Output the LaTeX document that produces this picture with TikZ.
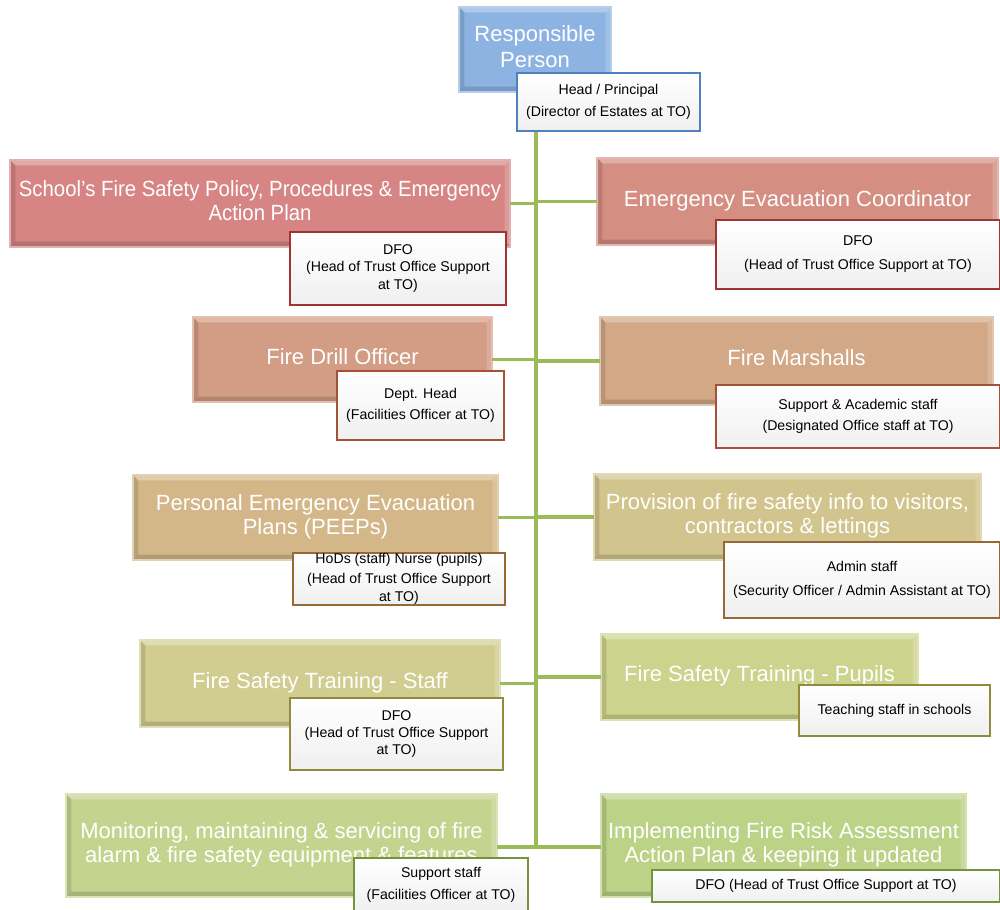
\documentclass[tikz,border=0pt]{standalone}
\usepackage{fontspec}
\setmainfont{Liberation Sans}
\begin{document}
\newcommand{\mainfs}{\fontsize{16.5}{18}\selectfont}
\newcommand{\subfs}{\fontsize{10.6}{13}\selectfont}
\newcommand{\mt}[1]{\raisebox{3pt}{\begin{tabular}{@{}c@{}}#1\end{tabular}}}
\definecolor{rpC}{RGB}{141,179,226}
\definecolor{rpB}{RGB}{79,129,189}
\definecolor{aL}{RGB}{214,132,132}
\definecolor{aR}{RGB}{212,142,130}
\definecolor{bL}{RGB}{211,156,132}
\definecolor{bR}{RGB}{210,168,134}
\definecolor{cL}{RGB}{211,183,136}
\definecolor{cR}{RGB}{209,196,140}
\definecolor{dL}{RGB}{209,205,145}
\definecolor{dR}{RGB}{204,211,141}
\definecolor{eL}{RGB}{196,212,143}
\definecolor{eR}{RGB}{188,210,135}
\definecolor{aB}{RGB}{160,52,52}
\definecolor{bB}{RGB}{165,80,55}
\definecolor{cB}{RGB}{150,105,55}
\definecolor{dB}{RGB}{145,140,60}
\definecolor{eB}{RGB}{118,146,60}
\definecolor{conn}{RGB}{155,187,89}
\newcommand{\bx}[7]{%
 \node[#6, minimum width={(#4-#2)*0.75pt}, minimum height={(#5-#3)*0.75pt}] (#1) at ({(#2+#4)/2},{(#3+#5)/2}) {#7};}
\begin{tikzpicture}[x=0.75pt,y=-0.75pt,
  mainbox/.style={fill=#1, draw=#1!65!white, line width=0.8pt, text=white, font=\mainfs, align=center, inner sep=0pt, outer sep=0pt,
    path picture={
      \fill[white,opacity=0.3] (path picture bounding box.north west) -- (path picture bounding box.north east) -- ([xshift=-4pt,yshift=-4pt]path picture bounding box.north east) -- ([xshift=4pt,yshift=-4pt]path picture bounding box.north west) -- cycle;
      \fill[white,opacity=0.18] (path picture bounding box.north east) -- (path picture bounding box.south east) -- ([xshift=-4pt,yshift=4pt]path picture bounding box.south east) -- ([xshift=-4pt,yshift=-4pt]path picture bounding box.north east) -- cycle;
      \fill[black,opacity=0.12] (path picture bounding box.north west) -- (path picture bounding box.south west) -- ([xshift=4pt,yshift=4pt]path picture bounding box.south west) -- ([xshift=4pt,yshift=-4pt]path picture bounding box.north west) -- cycle;
      \fill[black,opacity=0.15] (path picture bounding box.south west) -- (path picture bounding box.south east) -- ([xshift=-4pt,yshift=4pt]path picture bounding box.south east) -- ([xshift=4pt,yshift=4pt]path picture bounding box.south west) -- cycle;
    }},
  subbox/.style={draw=#1, line width=1.1pt, top color=white, bottom color=black!6, text=black, font=\subfs, align=center, inner sep=0pt, outer sep=0pt},
  link/.style={draw=conn, line width=2.4pt}]
\useasboundingbox (0,0) rectangle (1000,910);
\fill[white] (0,0) rectangle (1000,910);
\coordinate (sp) at (536,0);
\coordinate (bot) at (536,847);
% main boxes
\bx{rp}{459}{7}{611}{92}{mainbox=rpC}{\mt{Responsible\\[1.5pt]Person}}
\bx{a1}{10}{160}{510}{247}{mainbox=aL}{\addfontfeature{FakeStretch=0.925}\mt{School’s Fire Safety Policy, Procedures \& Emergency\\Action Plan}}
\bx{a2}{597}{158}{998}{245}{mainbox=aR}{\mt{Emergency Evacuation Coordinator}}
\bx{b1}{193}{317}{492}{402}{mainbox=bL}{\mt{Fire Drill Officer}}
\bx{b2}{600}{317}{993}{405}{mainbox=bR}{\mt{Fire Marshalls}}
\bx{c1}{133}{475}{498}{560}{mainbox=cL}{\mt{Personal Emergency Evacuation\\Plans (PEEPs)}}
\bx{c2}{594}{474}{981}{560}{mainbox=cR}{\mt{Provision of fire safety info to visitors,\\contractors \& lettings}}
\bx{d1}{140}{640}{500}{727}{mainbox=dL}{\mt{Fire Safety Training - Staff}}
\bx{d2}{601}{634}{918}{720}{mainbox=dR}{\mt{Fire Safety Training - Pupils}}
\bx{e1}{66}{794}{497}{897}{mainbox=eL}{\mt{Monitoring, maintaining \& servicing of fire\\alarm \& fire safety equipment \& features}}
\bx{e2}{601}{794}{966}{897}{mainbox=eR}{\mt{Implementing Fire Risk Assessment\\Action Plan \& keeping it updated}}
% connectors
\draw[link] (rp.south -| sp) -- (bot);
\draw[link] (a1.east) -- (a1.east -| sp);
\draw[link] (a2.west) -- (a2.west -| sp);
\draw[link] (b1.east) -- (b1.east -| sp);
\draw[link] (b2.west) -- (b2.west -| sp);
\draw[link] (c1.east) -- (c1.east -| sp);
\draw[link] (c2.west) -- (c2.west -| sp);
\draw[link] (d1.east) -- (d1.east -| sp);
\draw[link] (d2.west) -- (d2.west -| sp);
\draw[link] (e1.east |- bot) -- (bot);
\draw[link] (e2.west |- bot) -- (bot);
% sub boxes
\bx{rps}{517}{73}{700}{131}{subbox=rpB}{Head / Principal\\[3pt](Director of Estates at TO)}
\bx{a1s}{290}{232}{506}{305}{subbox=aB}{DFO\\(Head of Trust Office Support\\at TO)}
\bx{a2s}{716}{220}{1000}{289}{subbox=aB}{DFO\\[5pt](Head of Trust Office Support at TO)}
\bx{b1s}{337}{371}{504}{440}{subbox=bB}{Dept. Head\\[3pt](Facilities Officer at TO)}
\bx{b2s}{716}{385}{1000}{448}{subbox=bB}{Support \& Academic staff\\[3pt](Designated Office staff at TO)}
\bx{c1s}{293}{553}{505}{605}{subbox=cB}{HoDs (staff) Nurse (pupils)\\[2pt](Head of Trust Office Support\\at TO)}
\bx{c2s}{724}{542}{1000}{618}{subbox=cB}{Admin staff\\[5pt](Security Officer / Admin Assistant at TO)}
\bx{d1s}{290}{698}{503}{770}{subbox=dB}{DFO\\(Head of Trust Office Support\\at TO)}
\bx{d2s}{799}{685}{990}{736}{subbox=dB}{Teaching staff in schools}
\bx{e1s}{354}{858}{528}{912}{subbox=eB}{Support staff\\[3pt](Facilities Officer at TO)}
\bx{e2s}{652}{870}{1000}{902}{subbox=eB}{DFO (Head of Trust Office Support at TO)}
\end{tikzpicture}
\end{document}
